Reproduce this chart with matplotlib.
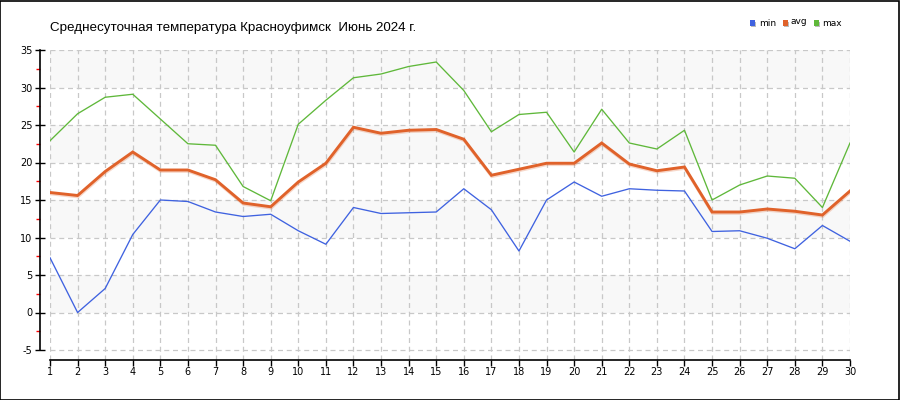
import matplotlib
matplotlib.use("Agg")
import matplotlib.pyplot as plt
import matplotlib.patheffects as pe
from matplotlib.patches import Rectangle
from matplotlib.ticker import MultipleLocator

plt.rcParams["axes.unicode_minus"] = False

days = list(range(1, 31))
t_min = [7.3, 0.0, 3.2, 10.4, 15.0, 14.8, 13.4, 12.8, 13.1, 10.9,
         9.1, 14.0, 13.2, 13.3, 13.4, 16.5, 13.7, 8.2, 15.0, 17.4,
         15.5, 16.5, 16.3, 16.2, 10.8, 10.9, 9.9, 8.5, 11.6, 9.5]
t_avg = [16.0, 15.6, 18.8, 21.4, 19.0, 19.0, 17.7, 14.6, 14.1, 17.4,
         19.9, 24.7, 23.9, 24.3, 24.4, 23.1, 18.3, 19.1, 19.9, 19.9,
         22.6, 19.8, 18.9, 19.4, 13.4, 13.4, 13.8, 13.5, 13.0, 16.2]
t_max = [22.9, 26.5, 28.7, 29.1, 25.8, 22.5, 22.3, 16.8, 14.9, 25.1,
         28.3, 31.3, 31.8, 32.8, 33.4, 29.6, 24.1, 26.4, 26.7, 21.4,
         27.1, 22.6, 21.8, 24.3, 15.0, 17.0, 18.2, 17.9, 14.0, 22.6]
title = "Среднесуточная температура Красноуфимск  Июнь 2024 г."
legend_labels = ["min", "avg", "max"]
colors = ["#3f62e0", "#e0622a", "#5fb83a"]

W, H = 900, 400
fig = plt.figure(figsize=(9, 4), dpi=100)
fig.patch.set_facecolor("white")

y_top, y_bot = 35, -5
px_per = 300 / 40.0
y_low = y_bot - 10 / px_per
ax = fig.add_axes([50 / W, (H - 360) / H, 800 / W, 310 / H])
ax.set_xlim(1, 30)
ax.set_ylim(y_low, y_top)

# alternating bands
for lo in range(-5, 35, 5):
    if (lo // 5) % 2 == 0:
        ax.axhspan(lo, lo + 5, color="#f8f8f8", zorder=0, lw=0)

for y in range(-5, 36, 5):
    ax.plot([1, 30], [y, y], color="#c8c8c8", lw=0.9, ls=(0, (4, 3)), zorder=1)
for d in days:
    ax.plot([d, d], [y_low, y_top], color="#c8c8c8", lw=0.9, ls=(0, (4, 3)), zorder=1)

ax.plot(days, t_min, color=colors[0], lw=0.95, zorder=3)
ax.plot(days, t_max, color=colors[2], lw=0.95, zorder=3)
ax.plot(days, t_avg, color=colors[1], lw=2.1, zorder=4, solid_joinstyle="miter",
        path_effects=[pe.SimpleLineShadow(offset=(0.3, -1.0), shadow_color=colors[1], alpha=0.25),
                      pe.Normal()])

for s in ["top", "right"]:
    ax.spines[s].set_visible(False)
ax.spines["left"].set_position(("outward", 7.2))
ax.spines["left"].set_bounds(-5, 35)
ax.spines["bottom"].set_bounds(1, 30)
for s in ["left", "bottom"]:
    ax.spines[s].set_linewidth(1.2)

ax.set_xticks(days)
ax.set_xticklabels([str(d) for d in days])
ax.yaxis.set_major_locator(MultipleLocator(5))
ax.yaxis.set_minor_locator(MultipleLocator(2.5))
ax.set_yticks(range(-5, 36, 5))
ax.tick_params(axis="y", which="major", direction="inout", length=7, width=1, labelsize=7, pad=2)
ax.tick_params(axis="y", which="minor", direction="out", length=3, width=1, color="red")
ax.tick_params(axis="x", direction="out", length=4, width=1, labelsize=7, pad=1)
for lab in ax.get_xticklabels() + ax.get_yticklabels():
    lab.set_fontfamily("DejaVu Sans")
ax.patch.set_alpha(0)

fig.text(50 / W, 1 - 28 / H, title, fontsize=9.6, family="Liberation Sans",
         ha="left", va="center")

# legend
sq_x = [750, 782.5, 814]
txt_x = [759.5, 790.5, 822.5]
txt_y = [23.5, 21.5, 23.0]
for i in range(3):
    fig.patches.append(Rectangle(((sq_x[i] + 1) / W, 1 - 27 / H), 5 / W, 5 / H,
                                 transform=fig.transFigure, facecolor="#bbbbbb",
                                 edgecolor="none", figure=fig))
    fig.patches.append(Rectangle((sq_x[i] / W, 1 - 26 / H), 5 / W, 5.5 / H,
                                 transform=fig.transFigure, facecolor=colors[i],
                                 edgecolor="none", figure=fig))
    fig.text(txt_x[i] / W, 1 - txt_y[i] / H, legend_labels[i], fontsize=6.5,
             family="DejaVu Sans", ha="left", va="center")

fig.patches.append(Rectangle((0.0005, 0.001), 0.9985, 0.997, transform=fig.transFigure,
                             facecolor="none", edgecolor="black", lw=1.2, figure=fig))

fig.savefig("out.png", dpi=100)
